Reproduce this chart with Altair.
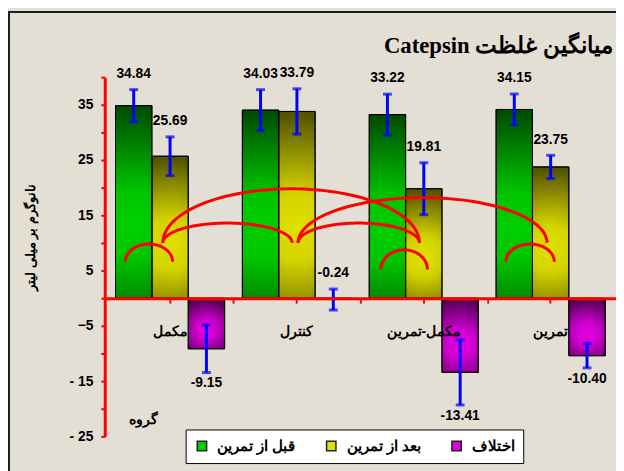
import altair as alt
import numpy as np
import pandas as pd

# ---------------- data ----------------
groups = ["مکمل", "کنترل", "مکمل-تمرین", "تمرین"]
series = ["قبل از تمرین", "بعد از تمرین", "اختلاف"]
series_colors = ["#00d000", "#e0e000", "#e000e0"]

before_vals = [34.84, 34.03, 33.22, 34.15]
after_vals = [25.69, 33.79, 19.81, 23.75]
diff_vals = [-9.15, -0.24, -13.41, -10.40]

before_err = [2.9, 3.7, 3.7, 2.8]
after_err = [3.5, 4.1, 4.7, 2.1]
diff_err = [4.3, 1.9, 5.9, 2.2]

# significance arcs: (group index, position in bar units inside group) -> (group, pos)
arc_from_group = [0, 2, 3, 0, 0, 1, 1]
arc_from_pos = [0.27, 0.32, 0.27, 1.30, 1.30, 1.53, 1.53]
arc_to_group = [0, 2, 3, 2, 1, 2, 3]
arc_to_pos = [1.57, 1.60, 1.60, 1.38, 1.37, 1.38, 1.40]
arc_end_y = [6.6, 5.2, 6.6, 10.0, 10.0, 10.0, 10.0]
arc_top_y = [9.8, 8.75, 9.8, 19.8, 13.6, 13.6, 18.2]

title_text = "\u202bمیانگین غلظت Catepsin\u202c"
y_title = "نانوگرم بر میلی لیتر"
x_title = "گروه"

# ---------------- tables ----------------
rows = []
for gi, g in enumerate(groups):
    for si, (vals, errs) in enumerate(
        [(before_vals, before_err), (after_vals, after_err), (diff_vals, diff_err)]
    ):
        v = vals[gi]
        e = errs[gi]
        above = v > -1
        rows.append(
            dict(
                group=g,
                series=series[si],
                value=v,
                lo=v - e,
                hi=v + e,
                label=f"{v:.2f}",
                ly=(v + e) if above else (v - e),
                above=above,
            )
        )
df = pd.DataFrame(rows)

PAD_IN = 0.14
PAD_OUT = 0.085
X_MAX = len(groups) - PAD_IN + 2 * PAD_OUT


def to_x(g, pos):
    return PAD_OUT + g + (1 - PAD_IN) * pos / 3.0


boundary_ticks = [PAD_OUT + i + 1 - PAD_IN / 2 for i in range(len(groups) - 1)]

arc_rows = []
t = np.linspace(0, np.pi, 61)
for k in range(len(arc_from_group)):
    xa = to_x(arc_from_group[k], arc_from_pos[k])
    xb = to_x(arc_to_group[k], arc_to_pos[k])
    for i, tt in enumerate(t):
        arc_rows.append(
            dict(
                arc=k,
                k=i,
                ax=xa + (xb - xa) * (1 - np.cos(tt)) / 2,
                ay=arc_end_y[k] + (arc_top_y[k] - arc_end_y[k]) * np.sin(tt),
            )
        )
arc_df = pd.DataFrame(arc_rows)

# ---------------- scales / axes ----------------
FONT = "Liberation Sans"
yscale = alt.Scale(domain=[-25, 40], nice=False, zero=False)
yaxis = alt.Axis(
    values=list(range(-25, 41, 5)),
    labelExpr="datum.value % 10 != 0 ? (datum.value < -9 ? '- ' + abs(datum.value) : datum.label) : ''",
    domainColor="#ff0000",
    domainWidth=3,
    tickColor="#ff0000",
    tickWidth=2,
    tickSize=4,
    labelPadding=8,
    labelFont=FONT,
    labelFontSize=14,
    labelFontWeight="bold",
    labelColor="black",
    grid=False,
    titleFont=FONT,
    titleFontSize=13,
    titleFontWeight="bold",
    titleColor="black",
    titleAngle=270,
    titleX=-75,
    titleY=162,
    titleAlign="center",
    titleBaseline="middle",
)
xscale = alt.Scale(domain=groups, paddingInner=PAD_IN, paddingOuter=PAD_OUT)
xaxis = alt.Axis(
    offset=-140,
    zindex=1,
    labelAngle=0,
    domainColor="#ff0000",
    domainWidth=3,
    tickColor="#ff0000",
    tickWidth=2,
    tickSize=5,
    labelPadding=22,
    labelFont=FONT,
    labelFontSize=14,
    labelFontWeight="bold",
    labelColor="black",
    titleFont=FONT,
    titleFontSize=14,
    titleFontWeight="bold",
    titleColor="black",
    titleX=39,
    titleY=123,
    titleAlign="center",
    titleBaseline="middle",
)
X = alt.X("group:N", sort=groups, scale=xscale, axis=xaxis, title=x_title)
XO = alt.XOffset(
    "series:N", sort=series, scale=alt.Scale(domain=series, paddingInner=0, paddingOuter=0)
)


def Y(field):
    return alt.Y(field, scale=yscale, axis=yaxis, title=y_title, stack=None)


base = alt.Chart(df)

bars = base.mark_bar(stroke="black", strokeWidth=1).encode(
    x=X,
    xOffset=XO,
    y=Y("value:Q"),
    color=alt.Color(
        "series:N",
        sort=series,
        scale=alt.Scale(domain=series, range=series_colors),
        legend=alt.Legend(
            orient="none",
            legendX=82,
            legendY=357,
            direction="horizontal",
            title=None,
            fillColor="white",
            strokeColor="black",
            padding=9,
            symbolType="square",
            symbolSize=90,
            symbolStrokeColor="#202020",
            symbolStrokeWidth=1.5,
            labelFont=FONT,
            labelFontSize=15,
            labelFontWeight="bold",
            labelColor="black",
            labelOffset=8,
            columnPadding=28,
        ),
    ),
)

shade = {
    "gradient": "radial",
    "x1": 0.5,
    "y1": 0.62,
    "r1": 0,
    "x2": 0.5,
    "y2": 0.62,
    "r2": 0.6,
    "stops": [
        {"offset": 0, "color": "rgba(0,0,0,0)"},
        {"offset": 0.3, "color": "rgba(0,0,0,0.06)"},
        {"offset": 1, "color": "rgba(0,0,0,0.62)"},
    ],
}
overlay = base.mark_bar(fill=shade, stroke="black", strokeWidth=1).encode(
    x=X, xOffset=XO, y=Y("value:Q")
)

err_rule = base.mark_rule(color="#0000ff", strokeWidth=3).encode(
    x=X, xOffset=XO, y=Y("lo:Q"), y2="hi:Q"
)
cap_lo = base.mark_tick(color="#0000ff", thickness=3, size=9, orient="horizontal").encode(
    x=X, xOffset=XO, y=Y("lo:Q")
)
cap_hi = base.mark_tick(color="#0000ff", thickness=3, size=9, orient="horizontal").encode(
    x=X, xOffset=XO, y=Y("hi:Q")
)

txt_kw = dict(font=FONT, fontSize=14, fontWeight="bold", color="black")
lab_up = (
    base.transform_filter("datum.above")
    .mark_text(baseline="bottom", dy=-9, **txt_kw)
    .encode(x=X, xOffset=XO, y=Y("ly:Q"), text="label:N")
)
lab_dn = (
    base.transform_filter("!datum.above")
    .mark_text(baseline="top", dy=4, **txt_kw)
    .encode(x=X, xOffset=XO, y=Y("ly:Q"), text="label:N")
)

main = alt.layer(bars, overlay, err_rule, cap_lo, cap_hi, lab_up, lab_dn)

arcs = (
    alt.Chart(arc_df)
    .mark_line(color="#ff0000", strokeWidth=3)
    .encode(
        x=alt.X(
            "ax:Q",
            scale=alt.Scale(domain=[0, X_MAX], nice=False, zero=False),
            axis=alt.Axis(
                orient="bottom",
                values=boundary_ticks,
                offset=-140,
                labels=False,
                domain=False,
                grid=False,
                tickColor="#ff0000",
                tickWidth=2,
                tickSize=5,
                title=None,
                zindex=1,
            ),
        ),
        y=Y("ay:Q"),
        detail="arc:N",
        order="k:Q",
    )
)

title_src = alt.Chart(pd.DataFrame({"t": [title_text]}))
title_mark = title_src.mark_text(
    align="right",
    baseline="alphabetic",
    font="Liberation Serif",
    fontSize=23,
    fontWeight="bold",
    color="black",
).encode(x=alt.value(515), y=alt.value(-24), text="t:N")

frame_src = alt.Chart(pd.DataFrame({"d": [0]}))
frame_left = frame_src.mark_rule(color="#1e1e1e", strokeWidth=2).encode(
    x=alt.value(-97), y=alt.value(-67), y2=alt.value(400)
)
frame_top = frame_src.mark_rule(color="#1e1e1e", strokeWidth=2).encode(
    x=alt.value(-98), x2=alt.value(520), y=alt.value(-66)
)

chart = (
    alt.layer(main, arcs, title_mark, frame_left, frame_top)
    .resolve_scale(x="independent")
    .properties(
        width=518,
        height=364,
        autosize=alt.AutoSizeParams(type="none"),
        padding={"left": 98, "top": 67, "right": 0, "bottom": 32},
    )
    .configure(background="#e4dfd5")
    .configure_view(strokeWidth=0)
)

chart.save("out.html", embed_options={"renderer": "svg", "actions": False})
